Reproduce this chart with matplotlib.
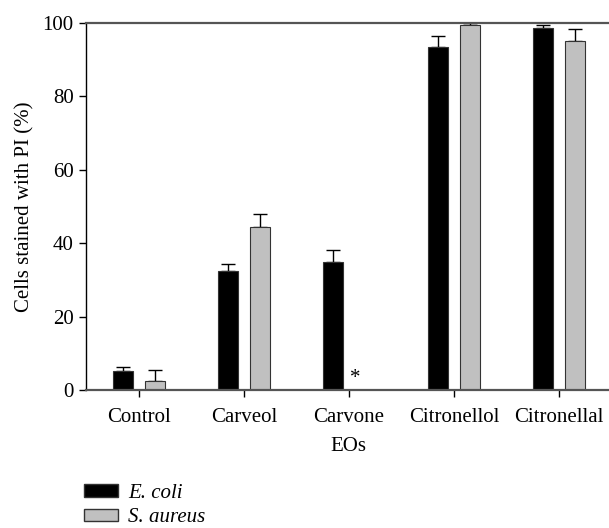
import matplotlib
matplotlib.use("Agg")
import matplotlib.pyplot as plt
import numpy as np
from matplotlib.patches import Patch

categories = ["Control", "Carveol", "Carvone", "Citronellol", "Citronellal"]
ecoli = [5.2, 32.4, 34.9, 93.5, 98.5]
ecoli_err = [1.1, 1.9, 3.2, 2.8, 1.0]
saureus = [2.5, 44.3, 0.0, 99.4, 95.1]
saureus_err = [2.9, 3.6, 0.0, 0.4, 3.2]
yticks = [0, 20, 40, 60, 80, 100]

plt.rcParams['font.family'] = ['Liberation Serif', 'DejaVu Serif']
FS = 15

fig = plt.figure(figsize=(6.09, 5.28), dpi=100)
ax = fig.add_axes([86/609, (528-390)/528, 1 - 86/609 + 0.004, (390-22.7)/528])

x = np.arange(len(categories))
w = 0.19
off = 0.152
ax.bar(x - off, ecoli, w, color="black", edgecolor="#333333", linewidth=0.8, zorder=2)
ax.bar(x + off, saureus, w, color="#c0c0c0", edgecolor="#333333", linewidth=0.8, zorder=2)
ax.errorbar(x - off, ecoli, yerr=[np.zeros(5), ecoli_err], fmt="none", ecolor="black",
            elinewidth=1.0, capsize=5, capthick=1.0, zorder=1)
mask = np.array(saureus) > 0
ax.errorbar((x + off)[mask], np.array(saureus)[mask],
            yerr=[np.zeros(mask.sum()), np.array(saureus_err)[mask]], fmt="none",
            ecolor="black", elinewidth=1.0, capsize=5, capthick=1.0, zorder=1)
ax.text(2 + 0.06, 0.5, "*", ha="center", va="bottom", fontsize=FS)

ax.set_xlim(-0.505, 4.5)
ax.set_ylim(0, 100)
ax.set_yticks(yticks)
ax.set_xticks(x)
ax.set_xticklabels(categories, fontsize=FS)
ax.tick_params(axis="y", labelsize=FS, direction="out", length=5, width=1, pad=4)
ax.tick_params(axis="x", direction="out", length=5, width=1, pad=8)
ax.spines["right"].set_visible(False)
ax.spines["top"].set_color("#555555")
ax.spines["top"].set_linewidth(1.6)
ax.spines["bottom"].set_color("#555555")
ax.spines["bottom"].set_linewidth(1.6)
ax.spines["left"].set_linewidth(1.0)
ax.set_xlabel("EOs", fontsize=FS, labelpad=7)
ax.set_ylabel("Cells stained with PI (%)", fontsize=FS, labelpad=6)

handles = [Patch(facecolor="black", edgecolor="#333333", label="E. coli"),
           Patch(facecolor="#c0c0c0", edgecolor="#333333", label="S. aureus")]
leg = fig.legend(handles=handles, loc="upper left", bbox_to_anchor=(0.125, 0.099),
                 frameon=False, prop={"style": "italic", "size": FS},
                 handlelength=1.6, handleheight=0.55, handletextpad=0.5,
                 labelspacing=0.25, borderaxespad=0)

fig.savefig("out.png", dpi=100)
